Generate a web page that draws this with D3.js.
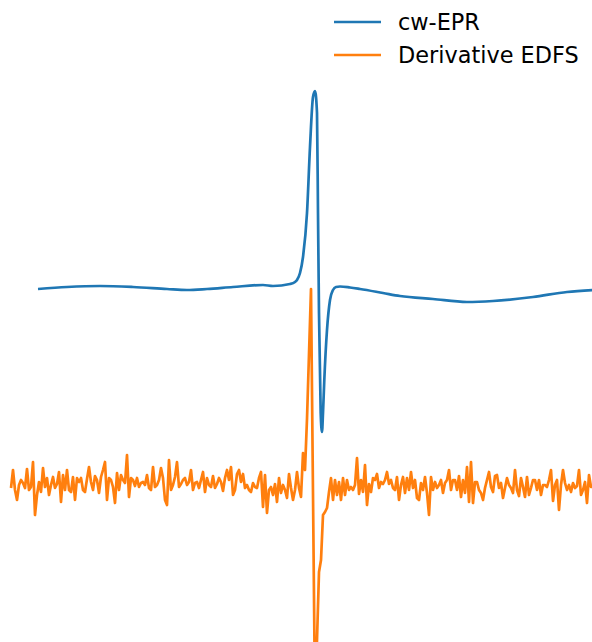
<!DOCTYPE html>
<html>
<head>
<meta charset="utf-8">
<script src="https://cdn.jsdelivr.net/npm/d3@7"></script>
<style>
  body { margin: 0; background: #fff; }
  svg { display: block; }
</style>
</head>
<body>
<svg width="592" height="642"></svg>
<script>
var svg = d3.select('svg'),
    width = +svg.attr('width'),
    height = +svg.attr('height');

var seriesNames = ['cw-EPR', 'Derivative EDFS'];
var seriesColors = ['#1f77b4', '#ff7f0e'];

// cw-EPR spectrum (field index, signal)
var eprField = [13.5, 28, 44.5, 61, 78, 88, 98, 111, 126, 131, 139.5, 142, 143, 144.5, 146, 148, 149.5, 151, 152, 153,
    153.5, 154, 154.85, 155.5, 156, 156.65, 158, 159.5, 161, 162.5, 164.5, 169.5, 174.5, 186, 194.5, 211, 228, 241, 261, 278, 291];
var eprSignal = [19.5, 19.7, 19.8, 19.7, 19.5, 19.4, 19.5, 19.7, 19.9, 19.8, 20.0, 20.2, 20.4, 21.1, 22.7, 27.1, 33.7, 38.7, 39.3, 37.1,
    27.1, 17.1, 7.1, 5.2, 7.1, 10.4, 15.4, 18.4, 19.4, 19.7, 19.75, 19.65, 19.5, 19.1, 18.8, 18.5, 18.2, 18.3, 18.7, 19.2, 19.4];

// derivative EDFS, one sample per field index starting at 0
var edfsSignal = [
    -0.4, 1.4, -0.6, -1.6, -0.1, 0.4, 0.1, -0.4, 1.5, -0.6, -0.3, 2.2, -3.1, -1.1, 0.2, -0.8, 1.6, -0.3, 0.6, -1.1,
    -0.1, 0.7, -0.4, 0, 1.2, -1.8, 0.9, -0.6, 1.4, -0.6, -0.8, 0.7, -1.6, 0.6, 0.2, 0.6, -0.6, -0.8, 0.5, 1.7,
    0.2, -0.6, 0.8, 0.4, -0.9, 0.7, 1.4, 2.2, -1.6, 0.6, 0.4, -0.3, -1.9, 1.1, -0.6, 0.9, 0.4, 0.1, 2.9, -1.3,
    0.6, 0.4, -0.2, 0.6, -0.3, 0.1, 0.2, -0.1, 0.9, -0.4, -0.6, 1.7, -0.3, -0.1, 0.4, 1.6, 0.6, -1.6, -2.1, 2.4,
    -0.6, -0.1, 0.7, 2.2, -0.3, 0, 0.4, 0.6, -0.1, 0.2, 1.4, -0.6, 0.1, 0.2, -0.4, 0.4, 1.2, -0.8, 0.6, -0.1,
    -0.3, 0.8, -0.4, 0, 0.6, 0.2, -0.7, 0.6, 1.4, 0.4, 1.7, -1.1, -0.6, 1.0, 1.4, 0.2, 1.0, -0.4, -0.1, -0.6,
    -0.8, 0.1, -0.3, -0.4, 0.6, 1.2, -2.3, 0.9, -2.9, -0.6, -0.3, -1.1, 0, -1.8, 0.6, -0.9, -0.1, -0.6, -1.4, 1.0,
    -0.4, -1.6, -0.6, 1.2, -0.4, -1.3, 3.1, 1.4, 6.5, 13.0, 19.5, -1.0, -21.6, -15.6, -8.8, -7.6, -3.1, -2.8, -2.4, -0.8,
    0.6, -1.6, 0.4, -1.1, 0.2, -1.6, 0.6, -1.1, 0.4, -0.6, -0.3, -0.6, -0.1, 2.6, -1.0, 0.4, -0.8, 1.9, -2.1, 0,
    -0.8, 0.6, 0.4, 1.0, -0.4, 0.2, 0, 0.4, 1.2, 0, 0.4, -0.4, -0.6, 0.7, -1.6, -0.1, 0.7, -0.9, 0.6, -0.6,
    1.2, -0.4, 0.4, -1.4, -1.6, 0.1, -0.6, 0.7, -0.9, -3.1, 0.7, -0.6, 0.2, -0.4, -0.1, 0.4, -0.9, 0.1, 0.4, 1.4,
    -0.6, 0.4, 0.4, -0.6, 0.8, -1.3, 0.4, -0.9, 1.7, -1.8, 2.2, -1.9, 0.2, 0.2, -0.6, -0.9, -1.6, -0.4, 0.4, 1.2,
    -0.3, -0.8, 0.8, 0.9, -0.4, 0.1, -1.4, -0.4, 0.6, -0.1, -0.4, -0.9, 1.4, -0.6, -1.2, 0.6, -0.3, -1.3, 0.7, -1.1,
    -0.4, 0.4, 0.4, -0.6, 0.4, -1.1, -0.1, -0.1, -0.3, 0.4, 1.4, -1.7, -0.1, 0.4, -2.6, -0.1, 1.4, 0.1, -0.6, -0.1,
    -0.8, 0.1, -0.4, -0.2, 1.4, -1.1, -0.6, 0.2, -1.9, 0.9, -0.3, -0.3
];

var eprData = eprField.map(function(f, i) { return { x: f, y: eprSignal[i] }; });
var edfsData = edfsSignal.map(function(v, i) { return { x: i, y: v }; });

var x = d3.scaleLinear().domain([0, 291]).range([11, 593]);
var y = d3.scaleLinear().domain([-15.8, 48.4]).range([642, 0]);

var eprLine = d3.line()
    .x(function(d) { return x(d.x); })
    .y(function(d) { return y(d.y); })
    .curve(d3.curveMonotoneX);

var edfsLine = d3.line()
    .x(function(d) { return x(d.x); })
    .y(function(d) { return y(d.y); });

svg.append('path')
    .datum(eprData)
    .attr('fill', 'none')
    .attr('stroke', seriesColors[0])
    .attr('stroke-width', 2.7)
    .attr('stroke-linejoin', 'round')
    .attr('d', eprLine);

svg.append('path')
    .datum(edfsData)
    .attr('fill', 'none')
    .attr('stroke', seriesColors[1])
    .attr('stroke-width', 2.7)
    .attr('stroke-linejoin', 'round')
    .attr('d', edfsLine);

// legend
var legend = svg.append('g')
    .attr('class', 'legend')
  .selectAll('g')
  .data(seriesNames)
  .enter().append('g')
    .attr('transform', function(d, i) { return 'translate(334,' + (22 + i * 33) + ')'; });

legend.append('line')
    .attr('x1', 0)
    .attr('x2', 47)
    .attr('stroke', function(d, i) { return seriesColors[i]; })
    .attr('stroke-width', 2.7);

legend.append('text')
    .attr('x', 64)
    .attr('y', 8)
    .attr('font-family', 'DejaVu Sans, sans-serif')
    .attr('font-size', 22.4)
    .attr('fill', '#000')
    .text(function(d) { return d; });
</script>
</body>
</html>
